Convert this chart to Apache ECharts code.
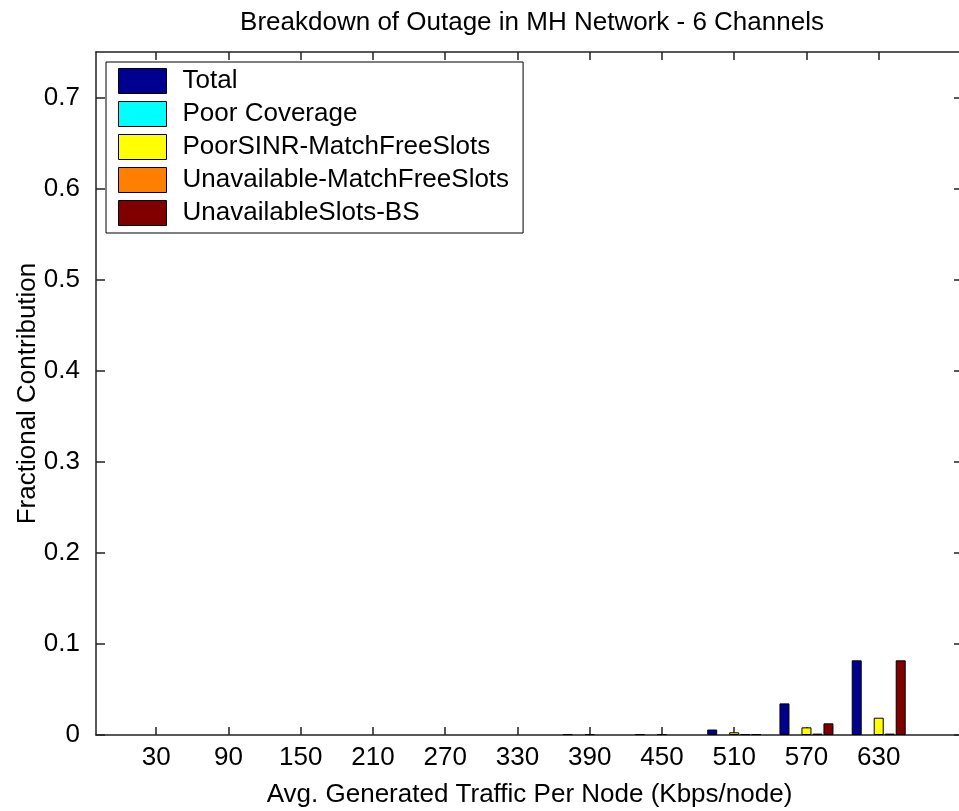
<!DOCTYPE html>
<html>
<head>
<meta charset="utf-8">
<script src="https://cdn.jsdelivr.net/npm/echarts@6/dist/echarts.min.js"></script>
<style>html,body{margin:0;padding:0;background:#fff}#c{width:959px;height:811px}</style>
</head>
<body>
<div id="c"></div>
<script>
var traffic = [30, 90, 150, 210, 270, 330, 390, 450, 510, 570, 630];
var yTicks = [0, 0.1, 0.2, 0.3, 0.4, 0.5, 0.6, 0.7];
var seriesNames = ['Total', 'Poor Coverage', 'PoorSINR-MatchFreeSlots', 'Unavailable-MatchFreeSlots', 'UnavailableSlots-BS'];
var seriesColors = ['#000090', '#00ffff', '#ffff00', '#ff8000', '#800000'];
var total        = [0, 0, 0, 0, 0, 0, 0.001, 0.001, 0.006, 0.0347, 0.082];
var poorCoverage = [0, 0, 0, 0, 0, 0, 0, 0, 0, 0, 0];
var poorSINR     = [0, 0, 0, 0, 0, 0, 0.001, 0.001, 0.003, 0.0084, 0.019];
var unavailMatch = [0, 0, 0, 0, 0, 0, 0, 0, 0.001, 0.0015, 0.0015];
var unavailBS    = [0, 0, 0, 0, 0, 0, 0, 0, 0.001, 0.0128, 0.082];
var seriesData = [total, poorCoverage, poorSINR, unavailMatch, unavailBS];

var FONT = 'Liberation Sans';
var FS = 26;
var chart = echarts.init(document.getElementById('c'));
var lineStyle = {color: '#222', width: 1.5};
var series = seriesNames.map(function (n, i) {
  return {
    name: n, type: 'bar', xAxisIndex: 0, yAxisIndex: 0,
    barWidth: 10, barGap: '10%',
    itemStyle: {color: seriesColors[i], borderColor: '#000', borderWidth: 1},
    data: traffic.map(function (x, j) {
      var v = seriesData[i][j];
      var d = {value: [x, v]};
      if (v === 0) d.itemStyle = {borderWidth: 0, opacity: 0};
      return d;
    })
  };
});
chart.setOption({
  backgroundColor: '#fff',
  animation: false,
  title: {
    text: 'Breakdown of Outage in MH Network - 6 Channels',
    left: 527, top: 5, textAlign: 'center',
    textStyle: {fontFamily: FONT, fontSize: FS, fontWeight: 'normal', color: '#000'}
  },
  legend: {
    orient: 'vertical', left: 106, top: 62,
    padding: [6, 14, 7, 12],
    itemWidth: 48, itemHeight: 25, itemGap: 7,
    icon: 'rect',
    borderColor: '#000', borderWidth: 1, backgroundColor: '#fff',
    itemStyle: {borderColor: '#000', borderWidth: 1},
    textStyle: {fontFamily: FONT, fontSize: FS, lineHeight: 25, color: '#000', padding: [0, 0, 0, 11]},
    data: seriesNames
  },
  grid: {left: 96, top: 52, width: 867, height: 683, containLabel: false, outerBoundsMode: 'none'},
  xAxis: [{
    type: 'value', min: -20, max: 700, position: 'bottom',
    name: 'Avg. Generated Traffic Per Node (Kbps/node)',
    nameLocation: 'middle', nameGap: 47, nameMoveOverlap: false,
    nameTextStyle: {fontFamily: FONT, fontSize: FS, color: '#000'},
    axisLine: {show: true, onZero: false, lineStyle: lineStyle},
    axisTick: {show: true, inside: true, length: 8, lineStyle: lineStyle, customValues: traffic},
    axisLabel: {fontFamily: FONT, fontSize: FS, color: '#000', margin: 10, customValues: traffic},
    splitLine: {show: false}
  }, {
    type: 'value', min: -20, max: 700, position: 'top',
    axisLine: {show: true, onZero: false, lineStyle: lineStyle},
    axisTick: {show: true, inside: true, length: 8, lineStyle: lineStyle, customValues: traffic},
    axisLabel: {show: false},
    splitLine: {show: false}
  }],
  yAxis: [{
    type: 'value', min: 0, max: 0.75, position: 'left',
    name: 'Fractional Contribution', nameLocation: 'middle', nameGap: 55, nameMoveOverlap: false,
    nameTextStyle: {fontFamily: FONT, fontSize: FS, color: '#000'},
    axisLine: {show: true, onZero: false, lineStyle: lineStyle},
    axisTick: {show: true, inside: true, length: 9, lineStyle: lineStyle, customValues: yTicks},
    axisLabel: {fontFamily: FONT, fontSize: FS, color: '#000', margin: 16, customValues: yTicks},
    splitLine: {show: false}
  }, {
    type: 'value', min: 0, max: 0.75, position: 'right',
    axisLine: {show: true, onZero: false, lineStyle: lineStyle},
    axisTick: {show: true, inside: true, length: 9, lineStyle: lineStyle, customValues: yTicks},
    axisLabel: {show: false},
    splitLine: {show: false}
  }],
  series: series
});
</script>
</body>
</html>
